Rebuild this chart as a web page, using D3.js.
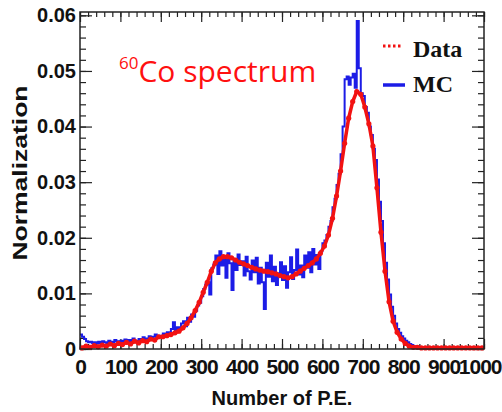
<!DOCTYPE html>
<html>
<head>
<meta charset="utf-8">
<script src="https://cdn.jsdelivr.net/npm/d3@7"></script>
<style>
  body { margin: 0; background: #fff; }
  svg { display: block; }
</style>
</head>
<body>
<div id="chart"></div>
<script>
// values are in units of 1e-3 (normalized counts)
const dataBinWidth = 10;   // P.E. per bin of the red "Data" series
const mcBinWidth = 5;      // P.E. per bin of the blue "MC" histogram

const dataValues = [
  0.2,0.5,0.3,0.6,0.4,0.7,0.5,0.9,0.6,1.0,
  0.8,1.2,0.9,1.4,1.1,1.5,1.3,1.8,1.6,2.2,
  2.2,2.4,2.6,2.9,3.2,3.8,4.6,5.6,6.9,8.4,
  10.2,12.0,14.0,15.5,16.2,16.6,16.6,16.4,16.0,15.6,
  15.3,15.0,14.7,14.4,14.2,14.0,13.9,13.7,13.5,13.2,
  13.0,12.8,13.0,13.5,14.0,14.5,15.0,15.5,16.2,17.2,
  18.5,20.5,23.5,27.5,32.0,37.0,41.5,44.5,46.3,45.8,
  43.5,40.5,36.5,29.0,21.0,14.0,8.5,5.0,3.0,1.8,
  1.0,0.5,0.3,0.3,0.2,0.2,0.2,0.2,0.2,0.2,
  0.2,0.2,0.2,0.2,0.2,0.2,0.2,0.2,0.2,0.2
];

const mcValues = [
  2.6,2.2,1.8,1.4,1.2,1.3,1.1,1.2,1.0,1.3,1.1,1.4,1.2,1.0,1.5,1.3,1.2,1.6,1.4,1.2,
  1.5,1.3,1.7,1.2,1.6,1.4,1.9,1.5,1.3,1.8,1.6,2.1,1.7,1.9,2.3,1.8,2.2,2.6,2.0,2.4,
  2.3,2.8,2.5,3.0,2.7,3.6,4.8,3.2,3.9,3.5,4.6,5.0,4.1,5.6,4.9,6.2,5.8,6.9,7.8,8.3,
  9.5,10.8,11.6,12.0,9.8,14.5,15.2,16.8,13.5,17.6,15.0,16.2,12.8,17.2,15.4,10.6,16.0,14.2,17.0,15.1,
  15.8,13.2,16.6,14.0,12.5,15.9,13.8,16.4,11.8,14.6,12.0,7.2,15.5,13.0,16.8,12.2,14.8,11.5,13.6,15.6,
  12.4,14.9,11.0,13.8,16.5,12.6,14.2,17.9,13.4,15.0,12.9,16.8,14.6,17.4,13.8,18.0,15.2,16.9,14.4,17.6,
  19.0,19.5,20.5,22.0,23.0,25.5,27.0,29.5,31.5,35.0,40.0,48.5,49.0,47.5,48.8,49.5,47.0,59.0,50.5,46.0,
  45.5,43.5,42.5,40.0,38.5,36.0,34.0,30.5,26.5,23.0,19.0,15.5,12.5,9.8,7.6,6.0,4.6,3.6,2.9,2.3,
  1.9,1.5,1.2,0.9,0.7,0.5,0.4,0.4,0.3,0.3,0.2,0.3,0.2,0.2,0.2,0.2,0.2,0.1,0.2,0.1,
  0.1,0.2,0.1,0.2,0.1,0.1,0.2,0.1,0.1,0.2,0.1,0.1,0.2,0.1,0.1,0.1,0.2,0.1,0.1,0.1
];

const xTicks = [0, 100, 200, 300, 400, 500, 600, 700, 800, 900, 1000];
const yTicks = [0, 10, 20, 30, 40, 50, 60];
const yTickLabels = ["0", "0.01", "0.02", "0.03", "0.04", "0.05", "0.06"];

// set the dimensions and margins of the graph
const margin = {top: 12, right: 18, bottom: 63, left: 80},
    width = 502 - margin.left - margin.right,
    height = 412 - margin.top - margin.bottom;

const root = d3.select("#chart")
  .append("svg")
    .attr("width", 502)
    .attr("height", 412);

const svg = root.append("g")
    .attr("transform", "translate(" + margin.left + "," + margin.top + ")");

const x = d3.scaleLinear().domain([0, 1000]).range([0, width]);
const y = d3.scaleLinear().domain([0, 60.6]).range([height, 0]);

const tickFont = "'Liberation Sans', Arial, sans-serif";

// minor ticks
const xMinor = d3.range(0, 1001, 20);
const yMinor = d3.range(0, 61, 2);

svg.append("g")
  .attr("transform", "translate(0," + height + ")")
  .call(d3.axisBottom(x).tickValues(xMinor).tickSize(-5).tickFormat(""));
svg.append("g")
  .call(d3.axisTop(x).tickValues(xMinor).tickSize(-5).tickFormat(""));
svg.append("g")
  .call(d3.axisLeft(y).tickValues(yMinor).tickSize(-6).tickFormat(""));
svg.append("g")
  .attr("transform", "translate(" + width + ",0)")
  .call(d3.axisRight(y).tickValues(yMinor).tickSize(-6).tickFormat(""));

// major ticks with labels
const xAxis = svg.append("g")
  .attr("class", "x-axis")
  .attr("transform", "translate(0," + height + ")")
  .call(d3.axisBottom(x).tickValues(xTicks).tickSize(-10).tickPadding(10).tickFormat(d3.format("d")));
svg.append("g")
  .call(d3.axisTop(x).tickValues(xTicks).tickSize(-10).tickFormat(""));

const yAxis = svg.append("g")
  .attr("class", "y-axis")
  .call(d3.axisLeft(y).tickValues(yTicks).tickSize(-12).tickPadding(4)
    .tickFormat((d, i) => yTickLabels[i]));
svg.append("g")
  .attr("transform", "translate(" + width + ",0)")
  .call(d3.axisRight(y).tickValues(yTicks).tickSize(-12).tickFormat(""));

svg.selectAll(".domain").remove();
svg.selectAll(".tick line").attr("stroke", "#222").attr("stroke-width", 1.2);
svg.selectAll(".tick text")
  .style("font-family", tickFont)
  .style("font-weight", "bold")
  .style("font-size", "20px")
  .attr("fill", "#111");
xAxis.selectAll(".tick text")
  .style("font-size", "21px")
  .style("letter-spacing", "-1px");
// keep the last label inside the picture
xAxis.selectAll(".tick text").filter(d => d === 1000)
  .attr("text-anchor", "end")
  .attr("dx", 17);

// MC histogram (blue steps)
const mcPoints = mcValues.map((v, i) => [i * mcBinWidth, v]);
mcPoints.push([mcValues.length * mcBinWidth, mcValues[mcValues.length - 1]]);

svg.append("path")
  .datum(mcPoints)
  .attr("fill", "none")
  .attr("stroke", "#1c1ce6")
  .attr("stroke-width", 2)
  .attr("d", d3.line()
    .x(d => x(d[0]))
    .y(d => y(d[1]))
    .curve(d3.curveStepAfter));

// Data (red, thick with markers)
const dataPoints = dataValues.map((v, i) => [i * dataBinWidth + dataBinWidth / 2, v]);

svg.append("path")
  .datum(dataPoints)
  .attr("fill", "none")
  .attr("stroke", "#f21212")
  .attr("stroke-width", 3.5)
  .attr("d", d3.line().x(d => x(d[0])).y(d => y(d[1])));

svg.selectAll("circle.data")
  .data(dataPoints)
  .enter()
  .append("circle")
    .attr("class", "data")
    .attr("cx", d => x(d[0]))
    .attr("cy", d => y(d[1]))
    .attr("r", 2.6)
    .attr("fill", "#f21212");

// frame
svg.append("rect")
  .attr("width", width)
  .attr("height", height)
  .attr("fill", "none")
  .attr("stroke", "#222")
  .attr("stroke-width", 1.5);

// legend
const legend = root.append("g");
legend.append("line")
  .attr("x1", 383).attr("x2", 403).attr("y1", 46).attr("y2", 46)
  .attr("stroke", "#f21212").attr("stroke-width", 3)
  .attr("stroke-dasharray", "2.5,2.5");
legend.append("line")
  .attr("x1", 383).attr("x2", 405).attr("y1", 85).attr("y2", 85)
  .attr("stroke", "#1c1ce6").attr("stroke-width", 3.5);
legend.append("text")
  .attr("x", 413).attr("y", 57)
  .text("Data");
legend.append("text")
  .attr("x", 413).attr("y", 92)
  .text("MC");
legend.selectAll("text")
  .style("font-family", "'Liberation Serif', 'Times New Roman', serif")
  .style("font-weight", "bold")
  .style("font-size", "24px")
  .attr("fill", "#111");

// title in the plot
const title = root.append("text")
  .attr("x", 119)
  .attr("y", 82)
  .style("font-family", "'Open Sans', sans-serif")
  .attr("fill", "#ff1010");
title.append("tspan")
  .attr("dy", -13)
  .style("font-size", "17px")
  .text("60");
title.append("tspan")
  .attr("dy", 13)
  .style("font-size", "30px")
  .text("Co spectrum");

// y-axis label
root.append("text")
  .attr("transform", "translate(27,173) rotate(-90)")
  .style("text-anchor", "middle")
  .style("font-family", tickFont)
  .style("font-weight", "bold")
  .style("font-size", "21px")
  .attr("textLength", 175)
  .attr("lengthAdjust", "spacingAndGlyphs")
  .attr("fill", "#111")
  .text("Normalization");

// x-axis label
root.append("text")
  .attr("x", 282)
  .attr("y", 405)
  .style("text-anchor", "middle")
  .style("font-family", tickFont)
  .style("font-weight", "bold")
  .style("font-size", "20px")
  .attr("fill", "#111")
  .text("Number of P.E.");
</script>
</body>
</html>
